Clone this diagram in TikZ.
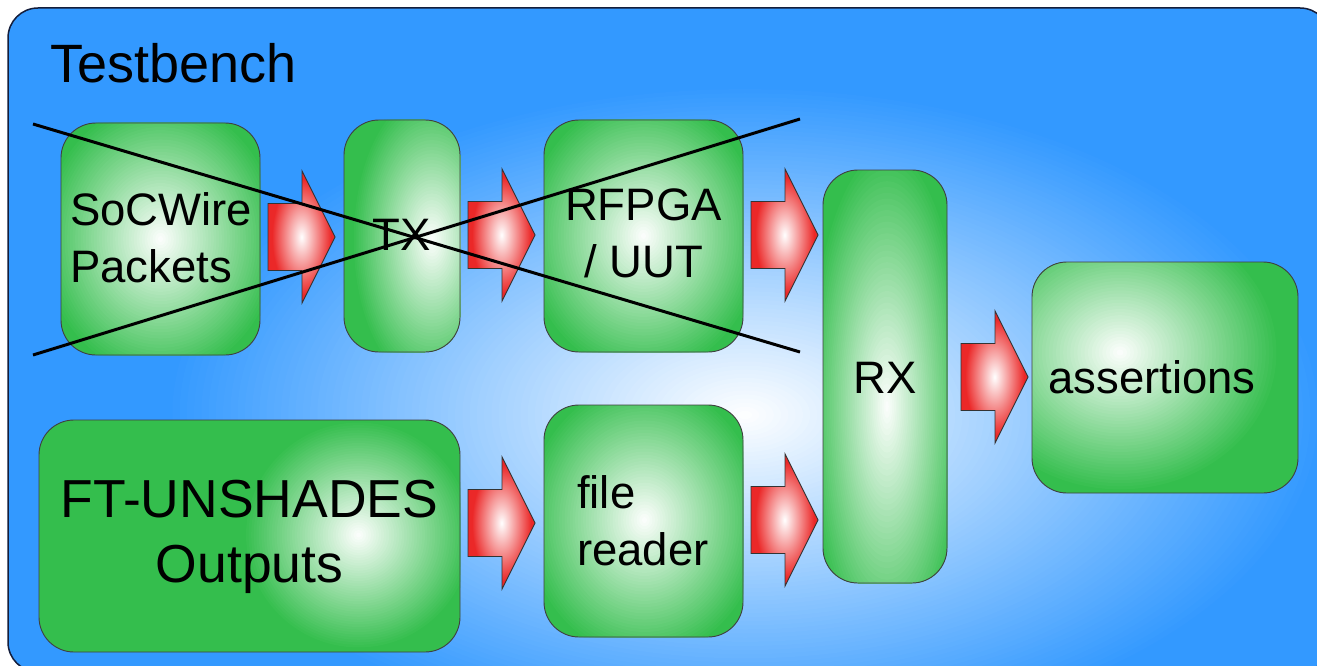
\documentclass[tikz,border=0pt]{standalone}
\usepackage{fontspec}
\setmainfont{Liberation Sans}
\usetikzlibrary{calc}
\definecolor{bgblue}{RGB}{51,153,255}
\definecolor{boxgreen}{RGB}{52,190,77}
\definecolor{arrred}{RGB}{235,40,40}
\definecolor{framec}{RGB}{20,30,60}
\pgfdeclareradialshading{redhl}{\pgfpointorigin}{color(0bp)=(white); color(22bp)=(arrred); color(50bp)=(arrred)}
% soft glow made of concentric ellipses: centre, x radius, y radius, outer colour, steps
\newcommand\myglow[5]{%
  \foreach \k in {0,...,#5}{%
    \pgfmathsetmacro\pp{100*\k/(#5+1)}%
    \pgfmathsetmacro\ff{1-\k/(#5+1)}%
    \fill[white!\pp!#4] (#1) ellipse [x radius={\ff*#2pt}, y radius={\ff*#3pt}];
  }}
\tikzset{
  box/.style={draw=black!75, line width=0.9pt, fill=boxgreen, rounded corners=35pt, inner sep=0pt},
  hl/.style n args={4}{path picture={
      \coordinate (glowc) at ($(path picture bounding box.center)+(#1,#2)$);
      \myglow{glowc}{#3}{#4}{boxgreen}{44}}},
  lbl/.style={font=\fontsize{45.5}{57}\selectfont, inner sep=0pt, text=black},
  biglbl/.style={font=\fontsize{53.5}{65}\selectfont, inner sep=0pt, text=black},
  xline/.style={line width=3pt, black},
  pics/barrow/.style={code={
    \shadedraw[draw=black!80, line width=0.9pt, shading=redhl]
      (0,0) -- (-33,-66) -- (-33,-33.5) -- (-67,-33.5) -- (-67,33.5) -- (-33,33.5) -- (-33,66) -- cycle;
  }}
}
\begin{document}
\begin{tikzpicture}[x=1pt, y=-1pt]
\useasboundingbox (0,0) rectangle (1317,666);
\clip (0,0) rectangle (1317,666);
\fill[white] (0,0) rectangle (1317,666);
% frame
\begin{scope}
  \clip[rounded corners=30pt] (8,8) rectangle (1330,672);
  \fill[bgblue] (0,0) rectangle (1317,666);
  \coordinate (bgc) at (745,415);
  \myglow{bgc}{580}{330}{bgblue}{79}
\end{scope}
\draw[framec, line width=1.5pt, rounded corners=30pt] (8,8) rectangle (1330,672);

\node[font=\fontsize{54}{65}\selectfont, inner sep=0pt, anchor=base west] (title) at (50,83) {Testbench};

% boxes
\node[box, minimum width=199pt, minimum height=232pt, hl={0}{0}{120}{140}] (soc) at (160.5,239) {};
\node[box, minimum width=116pt, minimum height=232pt, hl={30}{4}{80}{150}] (tx) at (402,236) {};
\node[box, minimum width=199pt, minimum height=232pt, hl={0}{0}{120}{140}] (uut) at (643.5,236) {};
\node[box, minimum width=124pt, minimum height=413pt, hl={2}{30}{80}{260}] (rx) at (885,376.5) {};
\node[box, minimum width=266pt, minimum height=231pt, hl={-45}{-25}{160}{140}] (as) at (1165,377.5) {};
\node[box, minimum width=421pt, minimum height=232pt, hl={109}{-1}{115}{115}] (ft) at (249.5,536) {};
\node[box, minimum width=199pt, minimum height=232pt, hl={1}{-1}{120}{140}] (fr) at (643.5,521) {};

% labels
\node[lbl, anchor=base west] (socA) at (70,225) {SoCWire};
\node[lbl, anchor=base west] (socB) at (70,282) {Packets};
\node[lbl, anchor=base] (txl) at (402,250) {TX};
\node[lbl, anchor=base] (uutA) at (643.5,220) {RFPGA};
\node[lbl, anchor=base] (uutB) at (643.5,277) {/ UUT};
\node[lbl, anchor=base] (rxl) at (885,393) {RX};
\node[lbl, anchor=base west] (asl) at (1048,393) {assertions};
\node[biglbl, anchor=base] (ftA) at (249.5,517) {FT-UNSHADES};
\node[biglbl, anchor=base] (ftB) at (249.5,582) {Outputs};
\node[lbl, anchor=base west] (frA) at (577,508) {file};
\node[lbl, anchor=base west] (frB) at (577,565) {reader};

% block arrows
\pic at (335,237) {barrow};
\pic at (535,235) {barrow};
\pic at (818,235) {barrow};
\pic at (1028,377) {barrow};
\pic at (535,523) {barrow};
\pic at (818,520) {barrow};

% crossing lines
\coordinate (l1a) at (33,124);
\coordinate (l1b) at (800,352);
\coordinate (l2a) at (33,355);
\coordinate (l2b) at (800,119);
\draw[xline] (l1a) -- (l1b);
\draw[xline] (l2a) -- (l2b);
\end{tikzpicture}
\end{document}
